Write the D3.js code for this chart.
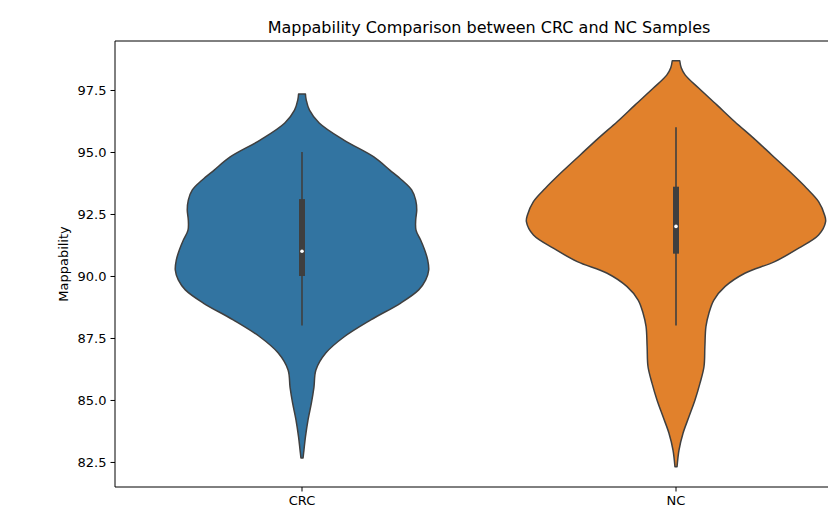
<!DOCTYPE html>
<html>
<head>
<meta charset="utf-8">
<script src="https://cdn.jsdelivr.net/npm/d3@7"></script>
<style>
  html, body { margin: 0; padding: 0; background: #fff; }
  svg { display: block; font-family: "DejaVu Sans", sans-serif; }
</style>
</head>
<body>
<svg id="chart" width="828" height="513"></svg>
<script>
// Sample groups
const categories = ["CRC", "NC"];
const colors = ["#3274a1", "#e1812c"];

// Kernel density profiles: [mappability, relative density]
const crcDensity = [
  [97.34, 0.023], [97.10, 0.028], [96.69, 0.050], [96.17, 0.115], [95.48, 0.280],
  [94.80, 0.480], [94.27, 0.587], [93.87, 0.667], [93.47, 0.733], [93.06, 0.760],
  [92.66, 0.767], [92.26, 0.760], [91.85, 0.762], [91.45, 0.793], [91.05, 0.820],
  [90.65, 0.840], [90.24, 0.847], [89.84, 0.827], [89.44, 0.780], [88.91, 0.660],
  [88.23, 0.460], [87.54, 0.280], [86.90, 0.160], [86.21, 0.093], [85.52, 0.080],
  [84.88, 0.063], [84.19, 0.040], [83.51, 0.023], [82.98, 0.013], [82.66, 0.007]
];
const ncDensity = [
  [98.68, 0.025], [98.40, 0.035], [98.10, 0.062], [97.57, 0.153], [96.90, 0.273],
  [96.22, 0.393], [95.55, 0.520], [94.88, 0.640], [94.21, 0.760], [93.54, 0.873],
  [93.00, 0.953], [92.46, 0.993], [92.19, 1.000], [91.65, 0.953], [91.12, 0.820],
  [90.58, 0.660], [90.11, 0.460], [89.57, 0.327], [89.03, 0.253], [88.50, 0.220],
  [87.96, 0.200], [87.15, 0.193], [86.34, 0.187], [85.67, 0.160], [85.00, 0.127],
  [84.33, 0.087], [83.66, 0.047], [82.98, 0.020], [82.31, 0.007]
];
const densities = [crcDensity, ncDensity];

// Box summaries: [whisker low, q1, median, q3, whisker high]
const crcBox = [88.0, 90.0, 91.0, 93.1, 95.0];
const ncBox = [88.0, 90.9, 92.0, 93.6, 96.0];
const boxes = [crcBox, ncBox];

const yTicks = [82.5, 85.0, 87.5, 90.0, 92.5, 95.0, 97.5];

const svg = d3.select("#chart");
const margin = { left: 115, top: 41, bottom: 487, right: 863 };

const x = d3.scaleBand().domain(categories)
  .range([margin.left, margin.right]).paddingInner(0).paddingOuter(0);
const y = d3.scaleLinear().domain([81.49, 99.476]).range([margin.bottom, margin.top]);

const maxDens = d3.max(densities, d => d3.max(d, p => p[1]));
const w = d3.scaleLinear().domain([0, maxDens]).range([0, x.bandwidth() * 0.4]);

const plot = svg.append("g");

// Violin bodies with inner box plots
categories.forEach((c, i) => {
  const cx = x(c) + x.bandwidth() / 2;
  const area = d3.area()
    .y(d => y(d[0]))
    .x0(d => cx - w(d[1]))
    .x1(d => cx + w(d[1]))
    .curve(d3.curveCatmullRom.alpha(0.5));
  plot.append("path")
    .datum(densities[i])
    .attr("d", area)
    .attr("fill", colors[i])
    .attr("stroke", "#3f3f3f")
    .attr("stroke-width", 1.5)
    .attr("stroke-linejoin", "round");

  const b = boxes[i];
  // whisker
  plot.append("line")
    .attr("x1", cx).attr("x2", cx)
    .attr("y1", y(b[0])).attr("y2", y(b[4]))
    .attr("stroke", "#3f3f3f").attr("stroke-width", 1.6);
  // interquartile box
  plot.append("rect")
    .attr("x", cx - 3).attr("width", 6)
    .attr("y", y(b[3])).attr("height", y(b[1]) - y(b[3]))
    .attr("fill", "#3f3f3f");
  // median
  plot.append("circle")
    .attr("cx", cx).attr("cy", y(b[2])).attr("r", 1.8)
    .attr("fill", "#fff");
});

// Axes
const yAxis = d3.axisLeft(y).tickValues(yTicks).tickFormat(d3.format(".1f"))
  .tickSize(4.5).tickPadding(4);
const gy = svg.append("g").attr("transform", `translate(${margin.left},0)`).call(yAxis);
gy.select(".domain").remove();
gy.selectAll("text").attr("font-size", 13).attr("fill", "#000")
  .attr("font-family", "DejaVu Sans, sans-serif");
gy.selectAll("line").attr("stroke", "#000").attr("stroke-width", 1);

const xAxis = d3.axisBottom(x).tickSize(4.5).tickPadding(4);
const gx = svg.append("g").attr("transform", `translate(0,${margin.bottom})`).call(xAxis);
gx.select(".domain").remove();
gx.selectAll("text").attr("font-size", 13).attr("fill", "#000")
  .attr("font-family", "DejaVu Sans, sans-serif");
gx.selectAll("line").attr("stroke", "#000").attr("stroke-width", 1);

// Frame
const frame = svg.append("g").attr("fill", "none").attr("stroke", "#000").attr("stroke-width", 1);
frame.append("line").attr("x1", margin.left).attr("x2", margin.left)
  .attr("y1", margin.top).attr("y2", margin.bottom);
frame.append("line").attr("x1", margin.left).attr("x2", margin.right)
  .attr("y1", margin.bottom).attr("y2", margin.bottom);
frame.append("line").attr("x1", margin.left).attr("x2", margin.right)
  .attr("y1", margin.top).attr("y2", margin.top);
frame.append("line").attr("x1", margin.right).attr("x2", margin.right)
  .attr("y1", margin.top).attr("y2", margin.bottom);

// Labels
svg.append("text")
  .attr("x", (margin.left + margin.right) / 2).attr("y", 33)
  .attr("text-anchor", "middle").attr("font-size", 16).attr("fill", "#000")
  .text("Mappability Comparison between CRC and NC Samples");

svg.append("text")
  .attr("transform", `translate(68,${(margin.top + margin.bottom) / 2}) rotate(-90)`)
  .attr("text-anchor", "middle").attr("font-size", 13).attr("fill", "#000")
  .text("Mappability");
</script>
</body>
</html>
